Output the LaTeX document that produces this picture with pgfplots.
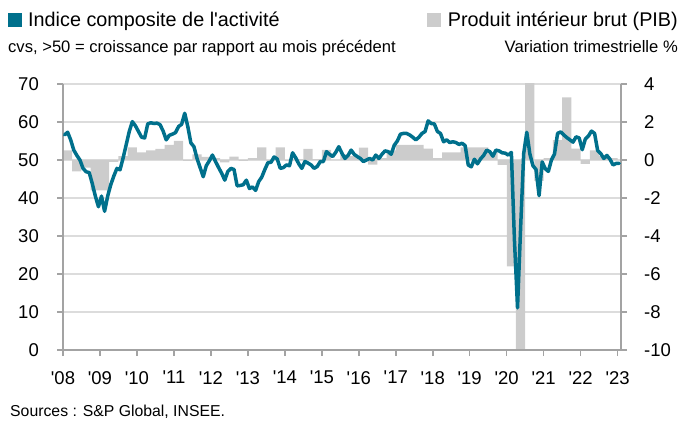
\documentclass[border=0pt]{standalone}
\usepackage{pgfplots}
\usepackage{pgfplotstable}
\pgfplotsset{compat=1.18}
\usepackage{fontspec}
\setmainfont{Liberation Sans}
\definecolor{pmiblue}{HTML}{00708C}
\definecolor{bargray}{HTML}{CCCCCC}
\definecolor{gridgray}{HTML}{DCDCDC}
\definecolor{axisgray}{HTML}{A3A3A3}
\newcommand\ticksize{\fontsize{18.5bp}{20bp}\selectfont}
\newcommand\titlesize{\fontsize{19.8bp}{22bp}\selectfont}
\newcommand\subsize{\fontsize{16.6bp}{19bp}\selectfont}
\newcommand\srcsize{\fontsize{15.8bp}{18bp}\selectfont}

\pgfplotstableread[row sep=\\]{
t v\\
0 56.6\\ 1 57.3\\ 2 55.3\\ 3 52.6\\ 4 51.2\\ 5 50.0\\ 6 47.8\\ 7 46.9\\ 8 46.7\\ 9 43.8\\ 10 40.5\\ 11 37.7\\
12 40.5\\ 13 36.5\\ 14 40.5\\ 15 43.5\\ 16 45.8\\ 17 47.8\\ 18 47.4\\ 19 50.5\\ 20 54.0\\ 21 57.5\\ 22 60.1\\ 23 59.0\\
24 57.5\\ 25 56.0\\ 26 55.8\\ 27 59.5\\ 28 59.8\\ 29 59.6\\ 30 59.7\\ 31 59.3\\ 32 57.6\\ 33 55.3\\ 34 56.5\\ 35 56.8\\
36 57.2\\ 37 58.8\\ 38 59.4\\ 39 62.3\\ 40 58.8\\ 41 54.5\\ 42 53.5\\ 43 50.4\\ 44 48.0\\ 45 45.6\\ 46 48.5\\ 47 49.8\\
48 51.3\\ 49 49.6\\ 50 48.0\\ 51 46.5\\ 52 44.7\\ 53 47.0\\ 54 47.8\\ 55 47.5\\ 56 43.2\\ 57 43.3\\ 58 43.5\\ 59 44.7\\
60 42.5\\ 61 42.9\\ 62 42.0\\ 63 44.3\\ 64 45.5\\ 65 47.5\\ 66 49.3\\ 67 49.4\\ 68 50.8\\ 69 50.3\\ 70 47.8\\ 71 48.0\\
72 48.7\\ 73 48.5\\ 74 51.9\\ 75 50.6\\ 76 49.0\\ 77 47.8\\ 78 49.6\\ 79 49.2\\ 80 48.7\\ 81 47.8\\ 82 48.3\\ 83 49.6\\
84 49.6\\ 85 52.2\\ 86 51.5\\ 87 50.9\\ 88 52.0\\ 89 53.5\\ 90 51.8\\ 91 50.4\\ 92 51.2\\ 93 52.6\\ 94 51.5\\ 95 50.9\\
96 50.4\\ 97 49.6\\ 98 50.0\\ 99 50.4\\ 100 50.0\\ 101 51.3\\ 102 50.4\\ 103 51.5\\ 104 52.4\\ 105 52.2\\ 106 51.5\\ 107 53.9\\
108 55.0\\ 109 56.8\\ 110 57.0\\ 111 57.0\\ 112 56.6\\ 113 56.0\\ 114 55.3\\ 115 56.0\\ 116 57.0\\ 117 57.5\\ 118 60.3\\ 119 59.6\\
120 59.5\\ 121 57.5\\ 122 57.0\\ 123 54.8\\ 124 55.3\\ 125 54.6\\ 126 54.8\\ 127 54.6\\ 128 54.1\\ 129 54.4\\ 130 53.8\\ 131 48.7\\
132 48.2\\ 133 50.2\\ 134 49.0\\ 135 50.3\\ 136 51.2\\ 137 52.6\\ 138 52.2\\ 139 51.0\\ 140 52.6\\ 141 52.4\\ 142 51.9\\ 143 51.8\\
144 51.3\\ 145 52.0\\ 146 28.9\\ 147 11.1\\ 148 32.1\\ 149 51.7\\ 150 57.3\\ 151 51.6\\ 152 48.5\\ 153 47.5\\ 154 40.6\\ 155 49.5\\
156 47.7\\ 157 47.0\\ 158 50.0\\ 159 51.6\\ 160 57.0\\ 161 57.4\\ 162 56.6\\ 163 55.9\\ 164 55.3\\ 165 54.7\\ 166 56.1\\ 167 55.8\\
168 52.7\\ 169 55.5\\ 170 56.3\\ 171 57.6\\ 172 57.0\\ 173 52.5\\ 174 51.7\\ 175 50.4\\ 176 51.2\\ 177 50.2\\ 178 48.7\\ 179 49.1\\
180 49.1\\
}\pmidata

\pgfplotstableread[row sep=\\]{
x v\\
2008.125 0.5\\ 2008.375 -0.6\\ 2008.625 -0.4\\ 2008.875 -1.6\\
2009.125 -1.6\\ 2009.375 -0.1\\ 2009.625 0.2\\ 2009.875 0.66\\
2010.125 0.4\\ 2010.375 0.5\\ 2010.625 0.58\\ 2010.875 0.8\\
2011.125 1.0\\ 2011.375 -0.05\\ 2011.625 0.3\\ 2011.875 0.17\\
2012.125 0.1\\ 2012.375 -0.12\\ 2012.625 0.18\\ 2012.875 -0.05\\
2013.125 0.1\\ 2013.375 0.66\\ 2013.625 -0.05\\ 2013.875 0.66\\
2014.125 -0.05\\ 2014.375 0.05\\ 2014.625 0.58\\ 2014.875 0.05\\
2015.125 0.53\\ 2015.375 0.0\\ 2015.625 0.3\\ 2015.875 0.2\\
2016.125 0.65\\ 2016.375 -0.25\\ 2016.625 0.1\\ 2016.875 0.5\\
2017.125 0.8\\ 2017.375 0.8\\ 2017.625 0.8\\ 2017.875 0.6\\
2018.125 0.1\\ 2018.375 0.4\\ 2018.625 0.4\\ 2018.875 0.66\\
2019.125 0.66\\ 2019.375 0.66\\ 2019.625 0.4\\ 2019.875 -0.26\\
2020.125 -5.6\\ 2020.375 -13.2\\ 2020.625 18.5\\ 2020.875 -1.1\\
2021.125 0.1\\ 2021.375 1.05\\ 2021.625 3.3\\ 2021.875 0.6\\
2022.125 -0.2\\ 2022.375 0.5\\ 2022.625 0.2\\ 2022.875 0.1\\
}\gdpdata

\begin{document}
\begin{tikzpicture}[x=1bp,y=1bp]
\useasboundingbox (0,0) rectangle (680,421);

% right axis: GDP bars + grid
\begin{axis}[
  at={(63bp,71bp)}, anchor=south west,
  scale only axis, width=558bp, height=266bp,
  xmin=2008, xmax=2023.09,
  ymin=-10, ymax=4,
  axis x line=none,
  axis y line*=right,
  axis line style={draw=axisgray, line width=1.5bp, -},
  ytick={-10,-8,-6,-4,-2,0,2,4},
  yticklabels={-10,-8,-6,-4,-2,0,2,4},
  xtick=\empty,
  ymajorgrids,
  grid style={draw=gridgray, line width=1.5bp},
  tick align=outside,
  major tick length=6bp,
  tick style={draw=axisgray, line width=1.5bp},
  yticklabel style={font=\ticksize, inner sep=0pt, anchor=west, xshift=17bp},
]
\addplot[ybar, bar width=0.25, fill=bargray, draw=none] table[x=x, y=v] {\gdpdata};
\end{axis}

% left axis: PMI line
\begin{axis}[
  at={(63bp,71bp)}, anchor=south west,
  scale only axis, width=558bp, height=266bp,
  xmin=2008, xmax=2023.09,
  ymin=0, ymax=70,
  axis x line*=bottom,
  axis y line*=left,
  axis line style={draw=axisgray, line width=1.5bp, -},
  xtick={2008,2009,...,2023},
  xticklabels={\textquotesingle08,\textquotesingle09,\textquotesingle10,\textquotesingle11,\textquotesingle12,\textquotesingle13,\textquotesingle14,\textquotesingle15,\textquotesingle16,\textquotesingle17,\textquotesingle18,\textquotesingle19,\textquotesingle20,\textquotesingle21,\textquotesingle22,\textquotesingle23},
  ytick={0,10,...,70},
  yticklabels={0,10,20,30,40,50,60,70},
  tick align=outside,
  major tick length=6bp,
  tick style={draw=axisgray, line width=1.5bp},
  yticklabel style={font=\ticksize, inner sep=0pt, anchor=east, xshift=-18bp},
  xticklabel style={font=\ticksize, inner sep=0pt, anchor=north, yshift=-15bp},
]
\addplot[pmiblue, line width=3.5bp, line join=round, line cap=round] table[x expr=2008+(\thisrow{t}+0.5)/12, y=v] {\pmidata};
\end{axis}

% legend / titles
\fill[pmiblue] (8,394) rectangle (22,408);
\node[anchor=base west, inner sep=0pt, font=\titlesize] at (28,394) {Indice composite de l\textquotesingle activité};
\node[anchor=base west, inner sep=0pt, font=\subsize] at (8,369) {cvs, >50 = croissance par rapport au mois précédent};
\fill[bargray] (427,394) rectangle (441,408);
\node[anchor=base east, inner sep=0pt, font=\titlesize] at (678,394) {Produit intérieur brut (PIB)};
\node[anchor=base east, inner sep=0pt, font=\subsize] at (678,369) {Variation trimestrielle \%};
\node[anchor=base west, inner sep=0pt, font=\srcsize] at (10,4.5) {Sources : S\&P Global, INSEE.};
\end{tikzpicture}
\end{document}
